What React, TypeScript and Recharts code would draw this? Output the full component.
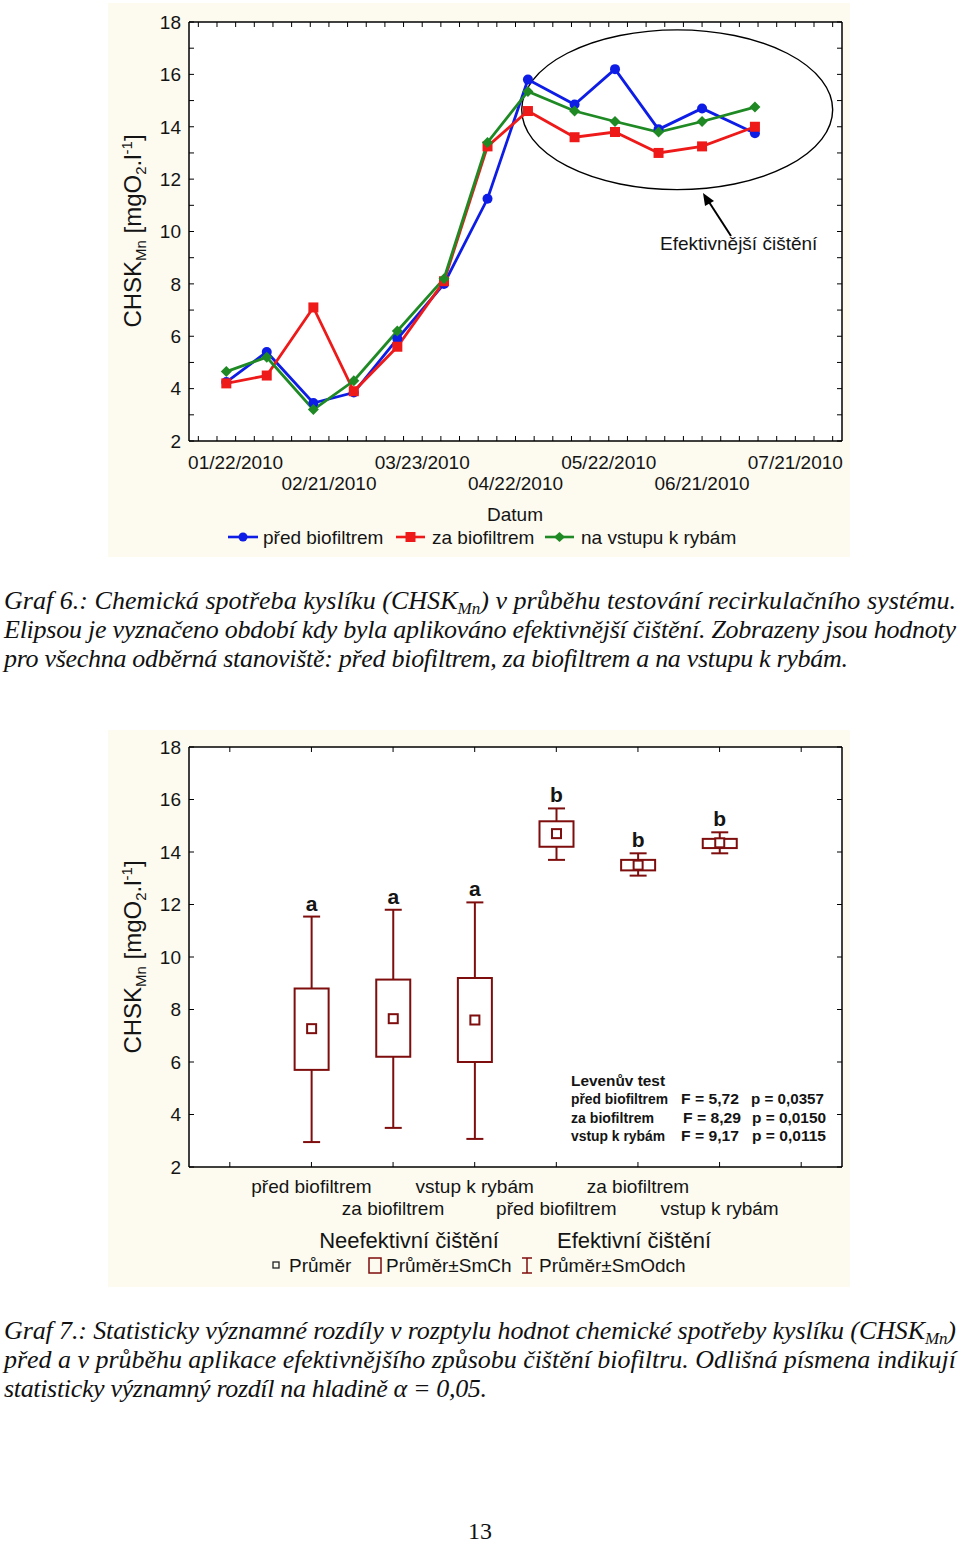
import React from 'react'
import {
  LineChart,
  Line,
  ComposedChart,
  Bar,
  XAxis,
  YAxis,
  CartesianGrid,
  ReferenceArea,
} from 'recharts'

const SANS = '"Liberation Sans", Arial, sans-serif'
const SERIF = '"Liberation Serif", "Times New Roman", serif'
const INK = '#141414'
const PANEL = '#fdfbf0'
const BLUE = '#0d1de6'
const RED = '#ee1a1a'
const GREEN = '#1f8a24'
const MAROON = '#7e0d0d'

// --- Graf 6: CHSK over time ---
const sampleDates = [
  '2010-01-19', '2010-02-01', '2010-02-16', '2010-03-01', '2010-03-15', '2010-03-30', '2010-04-13',
  '2010-04-26', '2010-05-11', '2010-05-24', '2010-06-07', '2010-06-21', '2010-07-08',
]
const predBiofiltrem = [4.25, 5.4, 3.45, 3.85, 5.9, 8.0, 11.25, 15.8, 14.85, 16.2, 13.9, 14.7, 13.75]
const zaBiofiltrem = [4.2, 4.5, 7.1, 3.9, 5.6, 8.1, 13.25, 14.6, 13.6, 13.8, 13.0, 13.25, 14.0]
const naVstupuKRybam = [4.65, 5.2, 3.2, 4.3, 6.2, 8.2, 13.4, 15.35, 14.6, 14.2, 13.8, 14.2, 14.75]
const dateTickLabels = ['01/22/2010', '02/21/2010', '03/23/2010', '04/22/2010', '05/22/2010', '06/21/2010', '07/21/2010']

// --- Graf 7: box plots ---
const slotLabels = ['', 'před biofiltrem', 'za biofiltrem', 'vstup k rybám', 'před biofiltrem', 'za biofiltrem', 'vstup k rybám', '']
const meanValues = [null, 7.27, 7.65, 7.6, 14.7, 13.5, 14.35, null]
const seLow = [null, 5.7, 6.2, 6.0, 14.2, 13.3, 14.15, null]
const seHigh = [null, 8.8, 9.14, 9.2, 15.17, 13.7, 14.5, null]
const sdLow = [null, 2.95, 3.49, 3.07, 13.7, 13.1, 13.95, null]
const sdHigh = [null, 11.54, 11.8, 12.08, 15.66, 13.95, 14.75, null]
const groupLetters = ['', 'a', 'a', 'a', 'b', 'b', 'b', '']

const dayOf = (iso: string) => {
  const [y, m, d] = iso.split('-').map(Number)
  return Math.round((Date.UTC(y, m - 1, d) - Date.UTC(2010, 0, 22)) / 86400000)
}

const lineData = sampleDates.map((d, i) => ({
  day: dayOf(d),
  pred: predBiofiltrem[i],
  za: zaBiofiltrem[i],
  vstup: naVstupuKRybam[i],
}))

const boxData = slotLabels.map((_, i) => ({
  slot: 's' + i,
  mean: meanValues[i],
  seLow: seLow[i],
  seHigh: seHigh[i],
  sdLow: sdLow[i],
  sdHigh: sdHigh[i],
  range: sdHigh[i] == null ? null : [sdLow[i], sdHigh[i]],
  letter: groupLetters[i],
}))

const dayTicks: number[] = []
for (let d = -12; d <= 192; d += 6) dayTicks.push(d)
const unitTicks = Array.from({ length: 17 }, (_, i) => 2 + i)
const evenTicks = [2, 4, 6, 8, 10, 12, 14, 16, 18]

const DayTick = (p: any) => {
  const v = p.payload.value as number
  const major = v % 30 === 0
  const idx = major ? v / 30 : -1
  return (
    <g>
      <line x1={p.x} x2={p.x} y1={p.y} y2={p.y - 5} stroke="#000" />
      {major && (
        <text x={p.x} y={p.y + (idx % 2 === 0 ? 28 : 49)} textAnchor="middle" fontSize={19} fontFamily={SANS} fill={INK}>
          {dateTickLabels[idx]}
        </text>
      )}
    </g>
  )
}

const TopTick = (p: any) => <line x1={p.x} x2={p.x} y1={p.y} y2={p.y + 5} stroke="#000" />
const RightTick = (p: any) => <line x1={p.x} x2={p.x - 5} y1={p.y} y2={p.y} stroke="#000" />

const LeftTick = (p: any) => {
  const v = p.payload.value as number
  return (
    <g>
      <line x1={p.x} x2={p.x + 5} y1={p.y} y2={p.y} stroke="#000" />
      {v % 2 === 0 && (
        <text x={p.x - 8} y={p.y} dy="0.36em" textAnchor="end" fontSize={19} fontFamily={SANS} fill={INK}>
          {v}
        </text>
      )}
    </g>
  )
}

const SlotTick = (p: any) => {
  const i = p.index as number
  return (
    <g>
      <line x1={p.x} x2={p.x} y1={p.y} y2={p.y - 5} stroke="#000" />
      {slotLabels[i] && (
        <text x={p.x} y={p.y + (i % 2 === 1 ? 26 : 48)} textAnchor="middle" fontSize={19} fontFamily={SANS} fill={INK}>
          {slotLabels[i]}
        </text>
      )}
    </g>
  )
}

const Ellipse = (p: any) => (
  <ellipse
    cx={p.x + p.width / 2}
    cy={p.y + p.height / 2}
    rx={p.width / 2}
    ry={p.height / 2}
    fill="none"
    stroke="#000"
    strokeWidth={1.4}
  />
)

const BoxShape = (p: any) => {
  const d = p.payload
  if (!d || d.sdHigh == null) return <g />
  const top = Math.min(p.y, p.y + p.height)
  const h = Math.abs(p.height)
  const ppu = h / (d.sdHigh - d.sdLow)
  const py = (v: number) => top + (d.sdHigh - v) * ppu
  const cx = p.x + p.width / 2
  const half = p.width / 2
  const cap = 8.5
  return (
    <g stroke={MAROON} strokeWidth={2} fill="none">
      <line x1={cx} x2={cx} y1={py(d.sdHigh)} y2={py(d.seHigh)} />
      <line x1={cx} x2={cx} y1={py(d.seLow)} y2={py(d.sdLow)} />
      <line x1={cx - cap} x2={cx + cap} y1={py(d.sdHigh)} y2={py(d.sdHigh)} />
      <line x1={cx - cap} x2={cx + cap} y1={py(d.sdLow)} y2={py(d.sdLow)} />
      <rect x={cx - half} y={py(d.seHigh)} width={p.width} height={py(d.seLow) - py(d.seHigh)} fill="#fff" />
      <rect x={cx - 4.5} y={py(d.mean) - 4.5} width={9} height={9} fill="#fff" />
      <text x={cx} y={py(d.sdHigh) - 6} textAnchor="middle" fontSize={21} fontWeight={700} fontFamily={SANS} fill={INK} stroke="none">
        {d.letter}
      </text>
    </g>
  )
}

const Circle = (p: any) => <circle key={p.index} cx={p.cx} cy={p.cy} r={5} fill={BLUE} />
const Square = (p: any) => <rect key={p.index} x={p.cx - 5} y={p.cy - 5} width={10} height={10} fill={RED} />
const Diamond = (p: any) => (
  <path key={p.index} d={`M${p.cx},${p.cy - 5.5}L${p.cx + 5.5},${p.cy}L${p.cx},${p.cy + 5.5}L${p.cx - 5.5},${p.cy}Z`} fill={GREEN} />
)

const YTitle = ({ x, y }: { x: number; y: number }) => (
  <text transform={`translate(${x},${y}) rotate(-90)`} textAnchor="middle" fontFamily={SANS} fontSize={24} fill={INK}>
    CHSK<tspan fontSize={15} dy={5}>Mn</tspan>
    <tspan dy={-5}> [mgO</tspan>
    <tspan fontSize={15} dy={5}>2</tspan>
    <tspan dy={-5}>.l</tspan>
    <tspan fontSize={15} dy={-9}>-1</tspan>
    <tspan dy={9}>]</tspan>
  </text>
)

const Caption = ({ y, w, children }: { y: number; w?: number; children: React.ReactNode }) => (
  <text x={4} y={y} fontFamily={SERIF} fontStyle="italic" fontSize={26} fill="#111" textLength={w} lengthAdjust="spacing">
    {children}
  </text>
)

const Fit = ({ x, y, w, size, bold, children }: any) => (
  <text x={x} y={y} fontFamily={SANS} fontSize={size} fontWeight={bold ? 700 : 400} fill={INK} textLength={w} lengthAdjust="spacingAndGlyphs">
    {children}
  </text>
)

export default function App() {
  return (
    <div style={{ position: 'absolute', left: 0, top: 0, width: 960, height: 1545, background: '#fff' }}>
      <div style={{ position: 'absolute', left: 108, top: 3, width: 742, height: 554, background: PANEL }}>
        <LineChart width={742} height={554} data={lineData} margin={{ top: 0, right: 0, bottom: 0, left: 0 }}>
          <CartesianGrid horizontal={false} vertical={false} fill="#fff" />
          <XAxis dataKey="day" type="number" domain={[-15, 195]} ticks={dayTicks} interval={0} height={116}
            tickSize={0} tickMargin={0} tick={DayTick} stroke="#000" strokeWidth={1.5} allowDataOverflow />
          <XAxis xAxisId="top" orientation="top" dataKey="day" type="number" domain={[-15, 195]} ticks={dayTicks}
            interval={0} height={19} tickSize={0} tickMargin={0} tick={TopTick} stroke="#000" strokeWidth={1.5} allowDataOverflow />
          <YAxis domain={[2, 18]} ticks={unitTicks} interval={0} width={81} tickSize={0} tickMargin={0}
            tick={LeftTick} stroke="#000" strokeWidth={1.5} allowDataOverflow />
          <YAxis yAxisId="right" orientation="right" domain={[2, 18]} ticks={unitTicks} interval={0} width={8}
            tickSize={0} tickMargin={0} tick={RightTick} stroke="#000" strokeWidth={1.5} allowDataOverflow />
          <ReferenceArea x1={92} x2={192} y1={11.6} y2={17.7} shape={Ellipse} ifOverflow="visible" />
          <Line dataKey="pred" stroke={BLUE} strokeWidth={2.8} dot={Circle} activeDot={false} isAnimationActive={false} />
          <Line dataKey="za" stroke={RED} strokeWidth={2.8} dot={Square} activeDot={false} isAnimationActive={false} />
          <Line dataKey="vstup" stroke={GREEN} strokeWidth={2.8} dot={Diamond} activeDot={false} isAnimationActive={false} />
        </LineChart>
      </div>

      <div style={{ position: 'absolute', left: 108, top: 730, width: 742, height: 557, background: PANEL }}>
        <ComposedChart width={742} height={557} data={boxData} margin={{ top: 0, right: 0, bottom: 0, left: 0 }}>
          <CartesianGrid horizontal={false} vertical={false} fill="#fff" />
          <XAxis dataKey="slot" type="category" interval={0} height={120} tickSize={0} tickMargin={0}
            tick={SlotTick} stroke="#000" strokeWidth={1.5} />
          <XAxis xAxisId="top" orientation="top" dataKey="slot" type="category" interval={0} height={17}
            tickSize={0} tickMargin={0} tick={TopTick} stroke="#000" strokeWidth={1.5} />
          <YAxis domain={[2, 18]} ticks={evenTicks} interval={0} width={81} tickSize={0} tickMargin={0}
            tick={LeftTick} stroke="#000" strokeWidth={1.5} allowDataOverflow />
          <YAxis yAxisId="right" orientation="right" domain={[2, 18]} ticks={evenTicks} interval={0} width={8}
            tickSize={0} tickMargin={0} tick={RightTick} stroke="#000" strokeWidth={1.5} allowDataOverflow />
          <Bar dataKey="range" barSize={34} shape={BoxShape} isAnimationActive={false} />
        </ComposedChart>
      </div>

      <svg width={960} height={1545} style={{ position: 'absolute', left: 0, top: 0, pointerEvents: 'none' }}>
        {/* Graf 6 labels */}
        <YTitle x={141} y={231} />
        <text x={515} y={521} textAnchor="middle" fontFamily={SANS} fontSize={19} fill={INK}>Datum</text>
        <g fontFamily={SANS} fontSize={19} fill={INK}>
          <line x1={228} x2={258} y1={537} y2={537} stroke={BLUE} strokeWidth={2.6} />
          <circle cx={243} cy={537} r={4.5} fill={BLUE} />
          <text x={263} y={544}>před biofiltrem</text>
          <line x1={396} x2={425} y1={537} y2={537} stroke={RED} strokeWidth={2.6} />
          <rect x={405.5} y={532} width={10} height={10} fill={RED} />
          <text x={432} y={544}>za biofiltrem</text>
          <line x1={545} x2={574} y1={537} y2={537} stroke={GREEN} strokeWidth={2.6} />
          <path d="M559.5,532L565,537L559.5,542L554,537Z" fill={GREEN} />
          <text x={581} y={544}>na vstupu k rybám</text>
        </g>
        <line x1={731} x2={709} y1={236} y2={202} stroke="#000" strokeWidth={2} />
        <path d="M703,193L714,201L705,206Z" fill="#000" />
        <text x={660} y={250} fontFamily={SANS} fontSize={19} fill={INK}>Efektivnější čištění</text>

        <Caption y={609} w={952}>
          Graf 6.: Chemická spotřeba kyslíku (CHSK<tspan fontSize={17} dy={5}>Mn</tspan>
          <tspan dy={-5}>) v průběhu testování recirkulačního systému.</tspan>
        </Caption>
        <Caption y={638} w={952}>
          Elipsou je vyznačeno období kdy byla aplikováno efektivnější čištění. Zobrazeny jsou hodnoty
        </Caption>
        <Caption y={667} w={844}>
          pro všechna odběrná stanoviště: před biofiltrem, za biofiltrem a na vstupu k rybám.
        </Caption>

        {/* Graf 7 labels */}
        <YTitle x={141} y={957} />
        <g fontFamily={SANS} fontSize={22} fill={INK} textAnchor="middle">
          <text x={409} y={1248}>Neefektivní čištění</text>
          <text x={634} y={1248}>Efektivní čištění</text>
        </g>
        <g fontFamily={SANS} fontSize={19} fill={INK}>
          <rect x={273} y={1262} width={6} height={6} fill="none" stroke="#222" strokeWidth={1.3} />
          <text x={289} y={1272}>Průměr</text>
          <rect x={369} y={1258} width={12} height={15} fill="none" stroke={MAROON} strokeWidth={1.5} />
          <text x={386} y={1272}>Průměr±SmCh</text>
          <g stroke={MAROON} strokeWidth={1.5}>
            <line x1={527} x2={527} y1={1258} y2={1273} />
            <line x1={522} x2={532} y1={1258} y2={1258} />
            <line x1={522} x2={532} y1={1273} y2={1273} />
          </g>
          <text x={539} y={1272}>Průměr±SmOdch</text>
        </g>
        <Fit x={571} y={1086} w={94} size={15} bold>Levenův test</Fit>
        <Fit x={571} y={1104} w={97} size={14.5} bold>před biofiltrem</Fit>
        <Fit x={681} y={1104} w={58} size={14.5} bold>F = 5,72</Fit>
        <Fit x={751} y={1104} w={73} size={14.5} bold>p = 0,0357</Fit>
        <Fit x={571} y={1123} w={83} size={14.5} bold>za biofiltrem</Fit>
        <Fit x={683} y={1123} w={58} size={14.5} bold>F = 8,29</Fit>
        <Fit x={752} y={1123} w={74} size={14.5} bold>p = 0,0150</Fit>
        <Fit x={571} y={1141} w={94} size={14.5} bold>vstup k rybám</Fit>
        <Fit x={681} y={1141} w={58} size={14.5} bold>F = 9,17</Fit>
        <Fit x={752} y={1141} w={74} size={14.5} bold>p = 0,0115</Fit>

        <Caption y={1339} w={952}>
          Graf 7.: Statisticky významné rozdíly v rozptylu hodnot chemické spotřeby kyslíku (CHSK
          <tspan fontSize={17} dy={5}>Mn</tspan>
          <tspan dy={-5}>)</tspan>
        </Caption>
        <Caption y={1368} w={952}>
          před a v průběhu aplikace efektivnějšího způsobu čištění biofiltru. Odlišná písmena indikují
        </Caption>
        <Caption y={1397} w={483}>
          statisticky významný rozdíl na hladině α = 0,05.
        </Caption>

        <text x={480} y={1539} textAnchor="middle" fontFamily={SERIF} fontSize={24} fill="#111">13</text>
      </svg>
    </div>
  )
}
